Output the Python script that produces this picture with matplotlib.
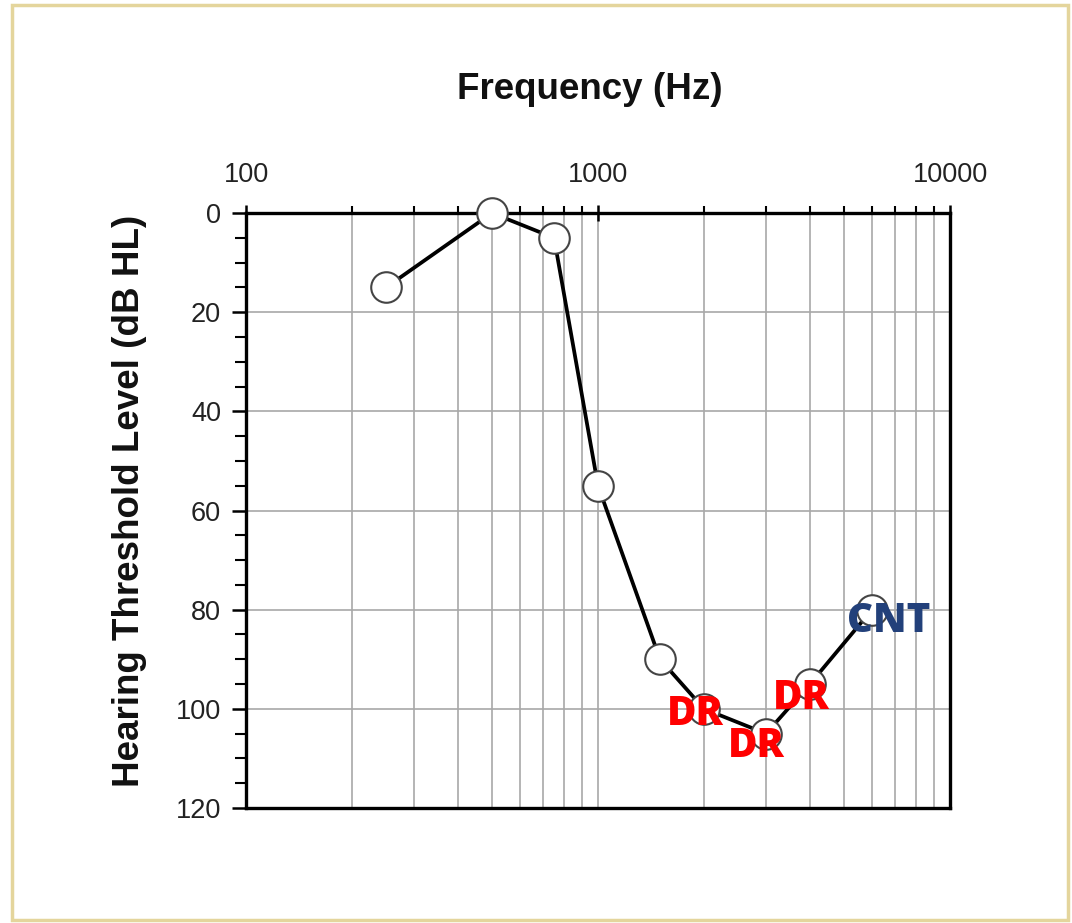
import matplotlib.pyplot as plt
import matplotlib as mpl
from matplotlib.ticker import FixedLocator, NullFormatter, MultipleLocator
from matplotlib.patches import Rectangle

# audiogram data
freqs = [250, 500, 750, 1000, 1500, 2000, 3000, 4000, 6000]
levels = [15, 0, 5, 55, 90, 100, 105, 95, 80]

# text marks drawn over some of the points
mark_text = ['', '', '', '', '', 'DR', 'DR', 'DR', 'CNT']
mark_color = ['', '', '', '', '', '#ff0000', '#ff0000', '#ff0000', '#22407a']
mark_offset = [(0, 0), (0, 0), (0, 0), (0, 0), (0, 0),
               (-6, -12), (-7, -17), (-6, -18), (12, -16)]

x_major = [100, 1000, 10000]
x_minor = [200, 300, 400, 500, 600, 700, 800, 900,
           2000, 3000, 4000, 5000, 6000, 7000, 8000, 9000]

mpl.rcParams['font.family'] = ['Liberation Sans', 'DejaVu Sans']

fig = plt.figure(figsize=(10.72, 9.23), dpi=100)
ax = fig.add_axes([0.2295, 0.1246, 0.6567, 0.6446])

# grid
for f in x_minor + [1000]:
    ax.axvline(f, color='#a8a8a8', lw=1.2, zorder=1)
for lvl in [20, 40, 60, 80, 100]:
    ax.axhline(lvl, color='#a8a8a8', lw=1.2, zorder=1)

# curve
ax.plot(freqs, levels, color='black', lw=2.7, zorder=3, clip_on=False)
ax.plot(freqs, levels, 'o', ms=22, mfc='white', mec='#444444', mew=1.5,
        zorder=4, clip_on=False)

for f, lvl, txt, col, off in zip(freqs, levels, mark_text, mark_color, mark_offset):
    if txt == '':
        continue
    ax.annotate(txt, (f, lvl), xytext=off, textcoords='offset points',
                ha='center', va='baseline', color=col, fontsize=29,
                fontweight='heavy', family=['Open Sans', 'DejaVu Sans'],
                zorder=5)

# axes
ax.set_xscale('log')
ax.set_xlim(100, 10000)
ax.set_ylim(120, 0)
ax.xaxis.set_major_locator(FixedLocator(x_major))
ax.xaxis.set_minor_locator(FixedLocator(x_minor))
ax.xaxis.set_minor_formatter(NullFormatter())
ax.set_xticklabels([str(v) for v in x_major])
ax.xaxis.tick_top()
ax.yaxis.set_major_locator(MultipleLocator(20))
ax.yaxis.set_minor_locator(MultipleLocator(5))

for s in ax.spines.values():
    s.set_linewidth(2.4)
ax.tick_params(axis='x', which='major', direction='inout', length=12, width=1.8,
               labelsize=19.5, labelcolor='#222222', pad=12)
ax.tick_params(axis='x', which='minor', direction='out', length=5, width=1.5)
ax.tick_params(axis='y', which='major', direction='out', length=10, width=1.8,
               labelsize=19.5, labelcolor='#222222', pad=8)
ax.tick_params(axis='y', which='minor', direction='out', length=8, width=1.5)

fig.text(0.550, 0.9025, 'Frequency (Hz)', ha='center', va='center',
         fontsize=26.5, fontweight='bold', color='#111111')
fig.text(0.121, 0.457, 'Hearing Threshold Level (dB HL)', ha='center',
         va='center', rotation=90, fontsize=26.5, fontweight='bold',
         color='#111111')

# thin frame round the whole image
fig.patches.append(Rectangle((12 / 1072, 3 / 923), 1056 / 1072, 915 / 923,
                             transform=fig.transFigure, fill=False,
                             edgecolor='#e4d59c', lw=2.5))

plt.savefig('out.png', dpi=100, facecolor='w')
